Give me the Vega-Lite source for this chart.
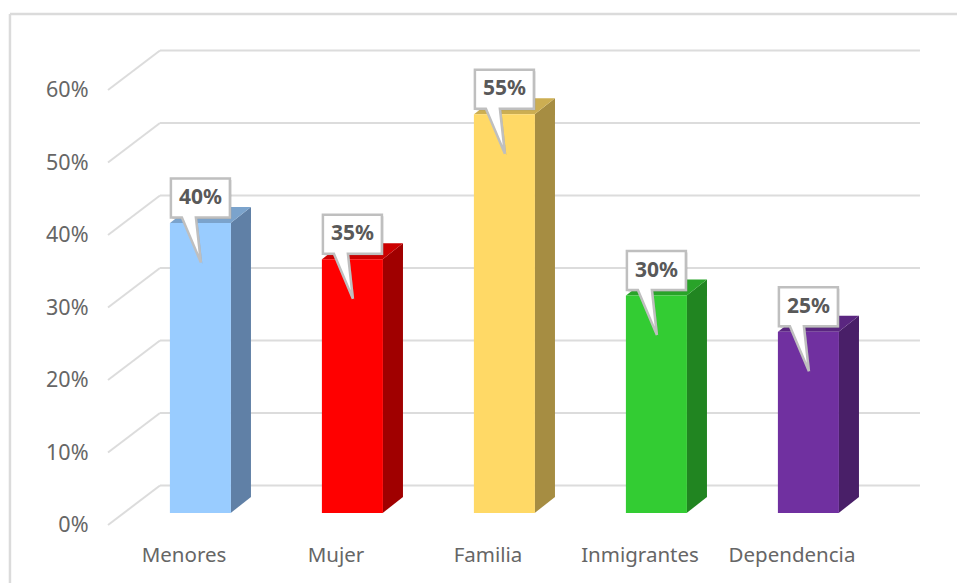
{
  "$schema": "https://vega.github.io/schema/vega-lite/v6.json",
  "width": 760,
  "height": 435,
  "autosize": "none",
  "padding": {"left": 108, "top": 90, "right": 89, "bottom": 58},
  "background": "white",
  "view": {"stroke": null},
  "datasets": {
    "bars": [
      {"category": "Menores", "value": 0.40},
      {"category": "Mujer", "value": 0.35},
      {"category": "Familia", "value": 0.55},
      {"category": "Inmigrantes", "value": 0.30},
      {"category": "Dependencia", "value": 0.25}
    ],
    "ticks": [
      {"tick": 0}, {"tick": 0.1}, {"tick": 0.2}, {"tick": 0.3},
      {"tick": 0.4}, {"tick": 0.5}, {"tick": 0.6}
    ]
  },
  "layer": [
    {
      "description": "Chart frame, back wall gridlines and the extruded faces, on a continuous category-slot x scale",
      "resolve": {"scale": {"color": "independent"}},
      "layer": [
        {
          "data": {"values": [{"edge": "frame"}]},
          "mark": {"type": "rule", "color": "#DBDBDB", "strokeWidth": 2.5, "clip": false},
          "encoding": {
            "x": {"datum": -0.645, "type": "quantitative", "scale": {"domain": [0, 5]}, "axis": null},
            "y": {"datum": 0.705, "type": "quantitative", "scale": {"domain": [0, 0.6]}, "axis": null},
            "y2": {"datum": -0.08}
          }
        },
        {
          "data": {"values": [{"edge": "frame"}]},
          "mark": {"type": "rule", "color": "#DBDBDB", "strokeWidth": 2.5, "clip": false},
          "encoding": {
            "x": {"datum": -0.645, "type": "quantitative", "scale": {"domain": [0, 5]}, "axis": null},
            "x2": {"datum": 5.59},
            "y": {"datum": 0.705, "type": "quantitative", "scale": {"domain": [0, 0.6]}, "axis": null}
          }
        },
        {
          "data": {"name": "ticks"},
          "mark": {"type": "rule", "color": "#DCDCDC", "strokeWidth": 2, "y2Offset": -39.5},
          "encoding": {
            "x": {"datum": 0, "type": "quantitative", "scale": {"domain": [0, 5]}, "axis": null},
            "x2": {"datum": 0.342},
            "y": {"field": "tick", "type": "quantitative", "scale": {"domain": [0, 0.6]}, "axis": null},
            "y2": {"field": "tick"}
          }
        },
        {
          "data": {"name": "ticks"},
          "mark": {"type": "rule", "color": "#DCDCDC", "strokeWidth": 2, "yOffset": -39.5},
          "encoding": {
            "x": {"datum": 0.342, "type": "quantitative", "scale": {"domain": [0, 5]}, "axis": null},
            "x2": {"datum": 5.342},
            "y": {"field": "tick", "type": "quantitative", "scale": {"domain": [0, 0.6]}, "axis": null}
          }
        },
        {
          "description": "Right-hand face of each column, derived from its value",
          "data": {"name": "bars"},
          "transform": [
            {"calculate": "indexof(['Menores','Mujer','Familia','Inmigrantes','Dependencia'], datum.category)", "as": "slot"},
            {"calculate": "[0, 1]", "as": "corner"},
            {"flatten": ["corner"]},
            {"calculate": "datum.slot + 0.807 + 0.1336 * datum.corner", "as": "px"},
            {"calculate": "0.01655 + 0.02207 * datum.corner", "as": "low"},
            {"calculate": "datum.value + datum.low", "as": "high"}
          ],
          "mark": {"type": "area", "clip": false, "interpolate": "linear"},
          "encoding": {
            "x": {"field": "px", "type": "quantitative", "scale": {"domain": [0, 5]}, "axis": null},
            "y": {"field": "low", "type": "quantitative", "scale": {"domain": [0, 0.6]}, "axis": null},
            "y2": {"field": "high"},
            "color": {
              "field": "category",
              "type": "nominal",
              "legend": null,
              "scale": {
                "domain": ["Menores", "Mujer", "Familia", "Inmigrantes", "Dependencia"],
                "range": ["#6080A6", "#A00000", "#A68D42", "#218521", "#491F68"]
              }
            }
          }
        },
        {
          "description": "Top face of each column, derived from its value",
          "data": {"name": "bars"},
          "transform": [
            {"calculate": "indexof(['Menores','Mujer','Familia','Inmigrantes','Dependencia'], datum.category)", "as": "slot"},
            {"calculate": "[0, 1, 2, 3]", "as": "corner"},
            {"flatten": ["corner"]},
            {"calculate": "datum.slot + 0.408 + (datum.corner == 0 ? 0 : datum.corner == 1 ? 0.1336 : datum.corner == 2 ? 0.399 : 0.5326)", "as": "px"},
            {"calculate": "datum.value + 0.01655 + (datum.corner == 3 ? 0.02207 : 0)", "as": "low"},
            {"calculate": "datum.value + 0.01655 + (datum.corner == 0 ? 0 : 0.02207)", "as": "high"}
          ],
          "mark": {"type": "area", "clip": false, "interpolate": "linear"},
          "encoding": {
            "x": {"field": "px", "type": "quantitative", "scale": {"domain": [0, 5]}, "axis": null},
            "y": {"field": "low", "type": "quantitative", "scale": {"domain": [0, 0.6]}, "axis": null},
            "y2": {"field": "high"},
            "color": {
              "field": "category",
              "type": "nominal",
              "legend": null,
              "scale": {
                "domain": ["Menores", "Mujer", "Familia", "Inmigrantes", "Dependencia"],
                "range": ["#7BA3CC", "#CC0000", "#CCAE52", "#29A329", "#5A2680"]
              }
            }
          }
        }
      ]
    },
    {
      "description": "Front faces, axes and value callouts, on the category band scale",
      "data": {"name": "bars"},
      "encoding": {
        "x": {
          "field": "category",
          "type": "nominal",
          "sort": null,
          "scale": {"domain": ["Menores", "Mujer", "Familia", "Inmigrantes", "Dependencia"]},
          "axis": {
            "title": null,
            "domain": false,
            "ticks": false,
            "labelAngle": 0,
            "labelPadding": 20,
            "labelFont": "Noto Sans",
            "labelFontSize": 20.5,
            "labelColor": "#666666"
          }
        },
        "y": {
          "field": "value",
          "type": "quantitative",
          "scale": {"domain": [0, 0.6]},
          "axis": {
            "title": null,
            "domain": false,
            "ticks": false,
            "grid": false,
            "format": ".0%",
            "values": [0, 0.1, 0.2, 0.3, 0.4, 0.5, 0.6],
            "labelPadding": 20,
            "labelOffset": 0.5,
            "labelFont": "Noto Sans",
            "labelFontSize": 21.5,
            "labelColor": "#666666"
          }
        }
      },
      "layer": [
        {
          "mark": {"type": "bar", "width": 61, "xOffset": 16.4, "yOffset": -12, "y2Offset": -12},
          "encoding": {
            "y2": {"datum": 0},
            "color": {
              "field": "category",
              "type": "nominal",
              "legend": null,
              "scale": {
                "domain": ["Menores", "Mujer", "Familia", "Inmigrantes", "Dependencia"],
                "range": ["#99CCFF", "#FF0000", "#FFD966", "#33CC33", "#7030A0"]
              }
            }
          }
        },
        {
          "description": "Soft edge under each callout",
          "mark": {
            "type": "point",
            "shape": "M-0.59,-0.39 L0.59,-0.39 L0.59,0.39 L-0.09,0.39 L0.01,1.29 L-0.37,0.39 L-0.59,0.39 Z",
            "size": 10000,
            "filled": true,
            "fill": "#8C8C8C",
            "opacity": 0.45,
            "xOffset": 17.9,
            "yOffset": -35.5
          }
        },
        {
          "mark": {
            "type": "point",
            "shape": "M-0.59,-0.39 L0.59,-0.39 L0.59,0.39 L-0.09,0.39 L0.01,1.29 L-0.37,0.39 L-0.59,0.39 Z",
            "size": 10000,
            "filled": true,
            "fill": "white",
            "fillOpacity": 1,
            "opacity": 1,
            "stroke": "#BFBFBF",
            "strokeWidth": 2.5,
            "xOffset": 16.4,
            "yOffset": -37
          }
        },
        {
          "mark": {
            "type": "text",
            "font": "Noto Sans",
            "fontSize": 21,
            "fontWeight": "bold",
            "color": "#595959",
            "xOffset": 16.4,
            "yOffset": -37,
            "baseline": "middle",
            "align": "center"
          },
          "encoding": {
            "text": {"field": "value", "type": "quantitative", "format": ".0%"}
          }
        }
      ]
    }
  ],
  "resolve": {
    "scale": {"x": "independent", "color": "independent"},
    "axis": {"y": "independent"}
  }
}
